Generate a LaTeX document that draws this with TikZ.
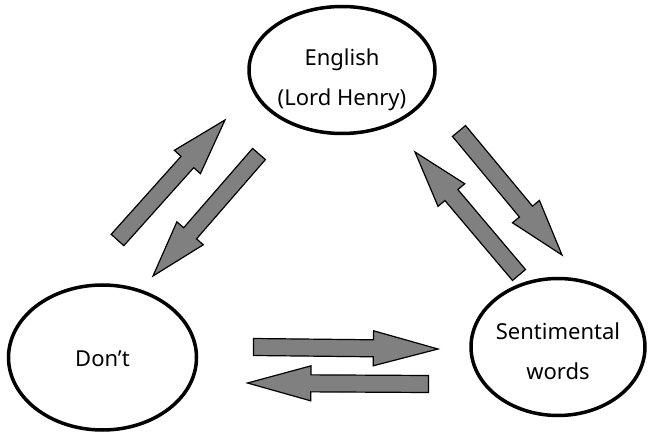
\documentclass[tikz,border=0pt]{standalone}
\usepackage{fontspec}
\setmainfont{Noto Sans}
\usetikzlibrary{calc,shapes.geometric}
\tikzset{
  bubble/.style={ellipse, draw=black, line width=3.5pt, fill=white, inner sep=0pt},
  bubbletext/.style={align=center, inner sep=0pt, font=\fontsize{22}{40}\selectfont},
  blockfill/.style={fill=black!50, draw=black, line width=1.2pt, line join=miter}
}
\newcommand\blockarrow[2]{%
  \coordinate (#2h) at ($(#2)!0.35!(#1)$);
  \filldraw[blockfill] ($(#1)!8.5pt!90:(#2)$) -- ($(#2h)!8.5pt!-90:(#1)$) -- ($(#2h)!17.5pt!-90:(#1)$) -- (#2)
    -- ($(#2h)!17.5pt!90:(#1)$) -- ($(#2h)!8.5pt!90:(#1)$) -- ($(#1)!8.5pt!-90:(#2)$) -- cycle;
}
\begin{document}
\begin{tikzpicture}[x=1pt,y=-1pt]
\useasboundingbox (0,0) rectangle (649,433);
\node[bubble, minimum width=186pt, minimum height=127pt] (eng) at (342,70) {};
\node[bubble, minimum width=188pt, minimum height=145pt] (dont) at (102.5,357.5) {};
\node[bubble, minimum width=174pt, minimum height=137pt] (sent) at (558,347) {};
\node[bubbletext] (engt) at ($(eng.center)+(0,10)$) {English\\(Lord Henry)};
\node[bubbletext] (dontt) at ($(dont.center)+(0,1)$) {Don’t};
\node[bubbletext] (sentt) at ($(sent.center)+(0,4)$) {Sentimental\\words};
% left pair
\coordinate (a1s) at (117.5,240);
\coordinate (a1e) at (225,120);
\coordinate (a2s) at (259,154);
\coordinate (a2e) at (153,276);
% right pair
\coordinate (a3s) at (459,131);
\coordinate (a3e) at (562,255);
\coordinate (a4s) at (519,275);
\coordinate (a4e) at (415,152);
% bottom pair
\coordinate (a5s) at (253.5,347);
\coordinate (a5e) at (438,349);
\coordinate (a6s) at (428.5,384);
\coordinate (a6e) at (247.5,383);
\blockarrow{a1s}{a1e}
\blockarrow{a2s}{a2e}
\blockarrow{a3s}{a3e}
\blockarrow{a4s}{a4e}
\blockarrow{a5s}{a5e}
\blockarrow{a6s}{a6e}
\end{tikzpicture}
\end{document}
